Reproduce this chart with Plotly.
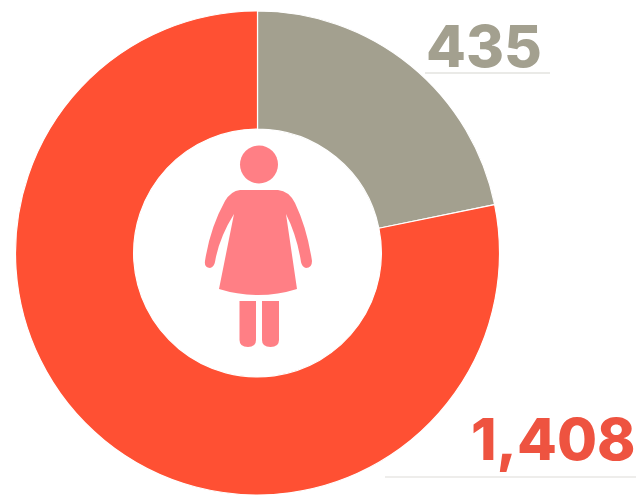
import plotly.graph_objects as go

categories = ["Grey segment", "Red segment"]
slice_shares = [21.8, 78.2]
value_labels = ["435", "1,408"]
slice_colors = ["#A3A08F", "#FF5033"]

W, H = 636, 495
ICON = "#FF7F85"


def px(x):
    return x / W


def py(y):
    return 1 - y / H


def path(points):
    parts = []
    for p in points:
        if isinstance(p, str):
            parts.append(p)
        else:
            parts.append(f"{px(p[0]):.5f},{py(p[1]):.5f}")
    return " ".join(parts)


fig = go.Figure(
    go.Pie(
        labels=categories,
        values=slice_shares,
        sort=False,
        direction="clockwise",
        rotation=0,
        hole=0.512,
        textinfo="none",
        hoverinfo="label",
        marker=dict(colors=slice_colors, line=dict(color="#FFFFFF", width=1.2)),
        domain=dict(x=[px(15), px(500)], y=[py(495), py(11)]),
    )
)

body = path([
    "M", (240, 190), "L", (278, 190),
    "Q", (289, 191), (295, 203),
    "Q", (307, 228), (312, 261),
    "Q", (312, 268), (306, 268),
    "Q", (302, 267), (301, 262),
    "Q", (297, 236), (286, 214),
    "L", (297, 289),
    "Q", (278, 295), (258, 295),
    "Q", (238, 295), (219, 289),
    "L", (234, 214),
    "Q", (219, 238), (215, 262),
    "Q", (214, 267), (210, 268),
    "Q", (204, 268), (205, 261),
    "Q", (210, 228), (225, 201),
    "Q", (231, 191), (240, 190),
    "Z",
])
leg_left = path([
    "M", (239.5, 301), "L", (256, 301), "L", (256, 340),
    "Q", (256, 347), (248, 347), "Q", (239.5, 347), (239.5, 340), "Z",
])
leg_right = path([
    "M", (262, 301), "L", (279, 301), "L", (279, 340),
    "Q", (279, 347), (270.5, 347), "Q", (262, 347), (262, 340), "Z",
])

shapes = [
    dict(type="circle", xref="paper", yref="paper", x0=px(240), x1=px(278),
         y0=py(183.5), y1=py(145.5), fillcolor=ICON, line_width=0),
]
for d in (body, leg_left, leg_right):
    shapes.append(dict(type="path", xref="paper", yref="paper", path=d,
                       fillcolor=ICON, line_width=0))
shapes.append(dict(type="line", xref="paper", yref="paper", x0=px(425), x1=px(550),
                   y0=py(73), y1=py(73), line=dict(color="#D6D5CF", width=1.2)))
shapes.append(dict(type="line", xref="paper", yref="paper", x0=px(385), x1=px(636),
                   y0=py(477), y1=py(477), line=dict(color="#DDDBD8", width=1.2)))

annotations = [
    dict(text=value_labels[0], xref="paper", yref="paper", x=px(484), y=py(46),
         xanchor="center", yanchor="middle", showarrow=False,
         font=dict(family="Inter", size=58, weight=800, color="#A3A08F")),
    dict(text=value_labels[1], xref="paper", yref="paper", x=1.0, y=py(439),
         xanchor="right", yanchor="middle", showarrow=False, xshift=2,
         font=dict(family="Inter", size=58, weight=800, color="#EE5340")),
]

fig.update_layout(
    width=W,
    height=H,
    margin=dict(l=0, r=0, t=0, b=0),
    paper_bgcolor="#FFFFFF",
    showlegend=False,
    shapes=shapes,
    annotations=annotations,
)

fig.write_html(
    "out.html",
    config=dict(displayModeBar=False),
    post_script="document.body.style.margin='0';",
)
